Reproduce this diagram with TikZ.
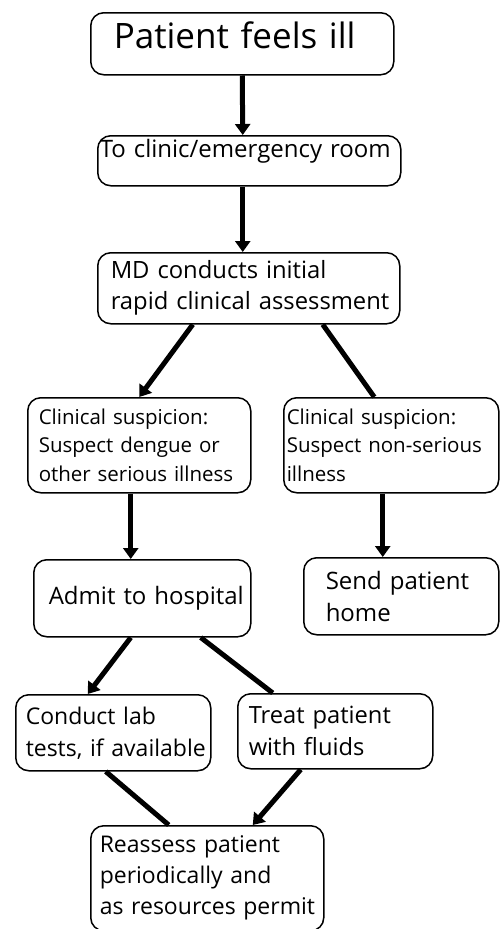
\documentclass[tikz,border=0pt]{standalone}
\usepackage{fontspec}
\setmainfont{Open Sans}
\usetikzlibrary{arrows.meta, positioning}

\tikzset{
  stepbox/.style={draw, line width=1.5pt, rounded corners=13pt, align=left,
    anchor=north west, inner ysep=0pt},
  lpad/.style={inner xsep=0pt, execute at begin node={\leftskip=#1pt\relax}},
  flow/.style={line width=5pt, -{Triangle[length=11pt, width=15pt]}},
  flowplain/.style={line width=5pt},
}

\begin{document}
\begin{tikzpicture}[x=1pt, y=-1pt]
  \useasboundingbox (0,0) rectangle (500,929);
  % boxes, each placed by its top-left corner
  \node[stepbox, text width=303pt, minimum height=62pt, lpad=23, text depth=16.6pt, font=\fontsize{35}{42}\selectfont] (ill) at (90,12) {Patient feels ill};
  \node[stepbox, text width=303pt, minimum height=50pt, lpad=2, text depth=24pt, font=\fontsize{24}{30}\selectfont] (clinic) at (97,135) {To clinic/emergency room};
  \node[stepbox, text width=302pt, minimum height=71pt, lpad=13, font=\fontsize{23.8}{31}\selectfont] (md) at (97,252) {MD conducts initial\\rapid clinical assessment};
  \node[stepbox, text width=223pt, minimum height=95pt, lpad=11, font=\fontsize{20.5}{28.5}\selectfont] (serious) at (27,397) {Clinical suspicion:\\Suspect dengue or\\other serious illness};
  \node[stepbox, text width=215pt, minimum height=95pt, lpad=3, font=\fontsize{20.5}{28.5}\selectfont] (mild) at (283,397) {Clinical suspicion:\\Suspect non-serious\\illness};
  \node[stepbox, text width=217pt, minimum height=77pt, lpad=15, font=\fontsize{24}{31}\selectfont] (admit) at (33,559) {Admit to hospital};
  \node[stepbox, text width=195pt, minimum height=77pt, lpad=22, font=\fontsize{24}{32}\selectfont] (home) at (303,557) {Send patient\\home};
  \node[stepbox, text width=195pt, minimum height=76pt, lpad=10, font=\fontsize{23}{32}\selectfont] (lab) at (15,694) {Conduct lab\\tests, if available};
  \node[stepbox, text width=195pt, minimum height=75pt, lpad=11, font=\fontsize{23.7}{32}\selectfont] (fluids) at (237,693) {Treat patient\\with fluids};
  \node[stepbox, text width=233pt, minimum height=105pt, lpad=9, font=\fontsize{23}{31}\selectfont] (reassess) at (90,825) {Reassess patient\\periodically and\\as resources permit};

  % connectors
  \draw[flow] (ill.south) -- ([xshift=-6.5pt]clinic.north);
  \draw[flow] ([xshift=-6.5pt]clinic.south) -- ([xshift=-6pt]md.north);
  \draw[flow] ([xshift=-56pt]md.south) -- (serious.north);
  \draw[flowplain] ([xshift=74pt]md.south) -- ([xshift=-17pt]mild.north);
  \draw[flow] ([xshift=-8.5pt]serious.south) -- ([xshift=-11.5pt]admit.north);
  \draw[flow] ([xshift=-8.5pt]mild.south) -- ([xshift=-18.5pt]home.north);
  \draw[flow] ([xshift=-11.5pt]admit.south) -- ([xshift=-25.5pt]lab.north);
  \draw[flowplain] ([xshift=58.5pt]admit.south) -- ([xshift=-62.5pt]fluids.north);
  \draw[flowplain] ([xshift=-7.5pt]lab.south) -- ([xshift=-38.5pt]reassess.north);
  \draw[flow] ([xshift=-34.5pt]fluids.south) -- ([xshift=45.5pt]reassess.north);
\end{tikzpicture}
\end{document}
